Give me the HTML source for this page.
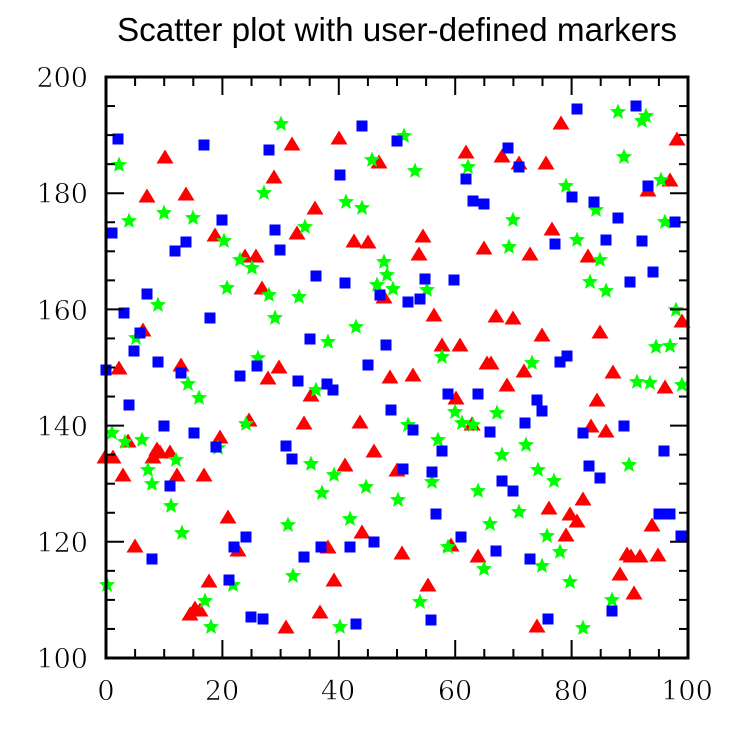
<!DOCTYPE html>
<html><head><meta charset="utf-8"><style>
html,body{margin:0;padding:0;background:#fff;width:750px;height:750px;overflow:hidden}
</style></head><body>
<svg id="s" width="750" height="750" xmlns="http://www.w3.org/2000/svg">
<rect width="750" height="750" fill="#fff"/>
<text x="397" y="41" font-family="Liberation Sans, sans-serif" font-size="33" text-anchor="middle" textLength="560" lengthAdjust="spacingAndGlyphs">Scatter plot with user-defined markers</text>
<g id="pts"></g>
<g id="ax" stroke="#000" stroke-width="2" fill="none"></g>
<rect x="106" y="77" width="582" height="581" fill="none" stroke="#000" stroke-width="3"/>
<g font-family="DejaVu Serif, Liberation Serif, serif" font-size="27" fill="#000" stroke="#fff" stroke-width="0.6">
<text x="88" y="668" text-anchor="end">100</text>
<text x="88" y="552" text-anchor="end">120</text>
<text x="88" y="436" text-anchor="end">140</text>
<text x="88" y="320" text-anchor="end">160</text>
<text x="88" y="203" text-anchor="end">180</text>
<text x="88" y="87" text-anchor="end">200</text>
<text x="106" y="700" text-anchor="middle">0</text>
<text x="222" y="700" text-anchor="middle">20</text>
<text x="338" y="700" text-anchor="middle">40</text>
<text x="455" y="700" text-anchor="middle">60</text>
<text x="571" y="700" text-anchor="middle">80</text>
<text x="687" y="700" text-anchor="middle">100</text>
</g>
</svg>
<script>
var NS="http://www.w3.org/2000/svg";
var ax=document.getElementById("ax"),P=document.getElementById("pts");
function ln(x1,y1,x2,y2){var l=document.createElementNS(NS,"line");l.setAttribute("x1",x1);l.setAttribute("y1",y1);l.setAttribute("x2",x2);l.setAttribute("y2",y2);ax.appendChild(l);}
for(var i=0;i<=20;i++){var L=(i%4==0)?18:9;var x=106+582*i/20;ln(x,658,x,658-L);ln(x,77,x,77+L);var y=658-581*i/20;ln(106,y,106+L,y);ln(688,y,688-L,y);}
var R=[[105,457],[113,457],[119,368],[123,475],[128,441],[135,546],[143,330],[147,196],[153,457],[157,449],[160,452],[165,157],[170,452],[177,475],[181,365],[186,194],[190,614],[195,608],[200,610],[204,475],[209,581],[215,235],[220,437],[228,517],[238,550],[245,256],[249,420],[256,256],[262,288],[268,378],[274,177],[279,367],[286,627],[292,144],[297,233],[304,423],[311,395],[315,208],[320,612],[328,547],[334,580],[339,138],[345,465],[354,241],[360,422],[362,532],[368,242],[374,451],[379,162],[384,297],[390,377],[397,470],[402,553],[413,375],[419,254],[423,236],[428,585],[434,315],[442,345],[451,545],[456,398],[460,345],[466,152],[472,424],[478,556],[484,248],[487,363],[491,363],[496,316],[502,156],[507,385],[513,318],[519,163],[524,371],[530,254],[537,626],[542,335],[546,163],[549,508],[552,229],[561,123],[566,535],[570,514],[577,521],[583,499],[588,256],[591,426],[597,400],[600,332],[606,431],[613,372],[620,574],[627,554],[631,556],[634,593],[640,556],[648,190],[652,525],[658,555],[665,387],[670,180],[677,139],[682,321]];
var G=[[107,585],[112,433],[119,165],[125,442],[129,221],[136,338],[142,440],[148,470],[152,484],[158,305],[164,213],[171,506],[176,460],[182,533],[188,384],[193,218],[199,398],[205,601],[211,627],[218,448],[224,241],[227,288],[233,585],[240,260],[246,424],[252,268],[258,358],[264,193],[269,295],[275,318],[281,124],[288,525],[293,576],[299,297],[305,227],[311,464],[316,390],[322,493],[328,342],[334,475],[340,627],[346,202],[350,519],[356,327],[362,208],[366,487],[372,160],[377,285],[384,262],[387,275],[393,289],[398,500],[404,136],[408,425],[415,171],[420,602],[427,290],[432,482],[438,440],[442,357],[448,547],[455,412],[462,423],[468,167],[473,425],[478,491],[484,569],[490,524],[497,413],[502,455],[509,247],[513,220],[519,512],[526,445],[532,363],[538,470],[542,566],[547,536],[554,481],[560,552],[566,186],[570,582],[577,240],[583,628],[590,282],[596,210],[600,260],[606,291],[612,600],[618,112],[624,157],[629,465],[637,382],[642,121],[646,116],[650,383],[656,347],[661,180],[665,222],[670,346],[676,310],[682,385]];
var B=[[106,370],[112,233],[118,139],[124,313],[129,405],[134,351],[140,333],[147,294],[152,559],[158,362],[164,426],[170,486],[175,251],[181,373],[186,242],[194,433],[204,145],[210,318],[216,447],[222,220],[229,580],[234,547],[240,376],[246,537],[251,617],[257,366],[263,619],[269,150],[275,230],[280,250],[286,446],[292,459],[298,381],[304,557],[310,339],[316,276],[321,547],[327,384],[333,390],[340,175],[345,283],[350,547],[356,624],[362,126],[368,365],[374,542],[380,295],[386,345],[391,410],[397,141],[403,469],[408,302],[413,430],[420,299],[425,279],[431,620],[432,472],[436,514],[442,451],[448,394],[454,280],[461,537],[466,179],[473,201],[478,394],[484,204],[490,432],[496,551],[502,481],[508,148],[513,491],[519,167],[525,423],[530,559],[537,400],[542,411],[548,619],[555,244],[560,362],[567,356],[572,197],[577,109],[583,433],[589,466],[594,202],[600,478],[606,240],[612,611],[618,218],[624,426],[630,282],[636,106],[642,241],[648,186],[653,272],[659,514],[664,451],[670,514],[675,222],[681,536]];
function poly(pts,fill){var p=document.createElementNS(NS,"polygon");p.setAttribute("points",pts);p.setAttribute("fill",fill);P.appendChild(p);}
R.forEach(function(a){var x=a[0],y=a[1];poly((x-8.5)+","+(y+6.5)+" "+(x+8.5)+","+(y+6.5)+" "+x+","+(y-7.5),"#f00");});
G.forEach(function(a){var x=a[0],y=a[1],s="";for(var k=0;k<10;k++){var r=k%2?3.8:8.5,t=-Math.PI/2+k*Math.PI/5;s+=(x+r*Math.cos(t)).toFixed(1)+","+(y+r*Math.sin(t)).toFixed(1)+" ";}poly(s,"#0f0");});
B.forEach(function(a){var r=document.createElementNS(NS,"rect");r.setAttribute("x",a[0]-5.5);r.setAttribute("y",a[1]-5.5);r.setAttribute("width",11);r.setAttribute("height",11);r.setAttribute("fill","#00f");P.appendChild(r);});
</script>
</body></html>
